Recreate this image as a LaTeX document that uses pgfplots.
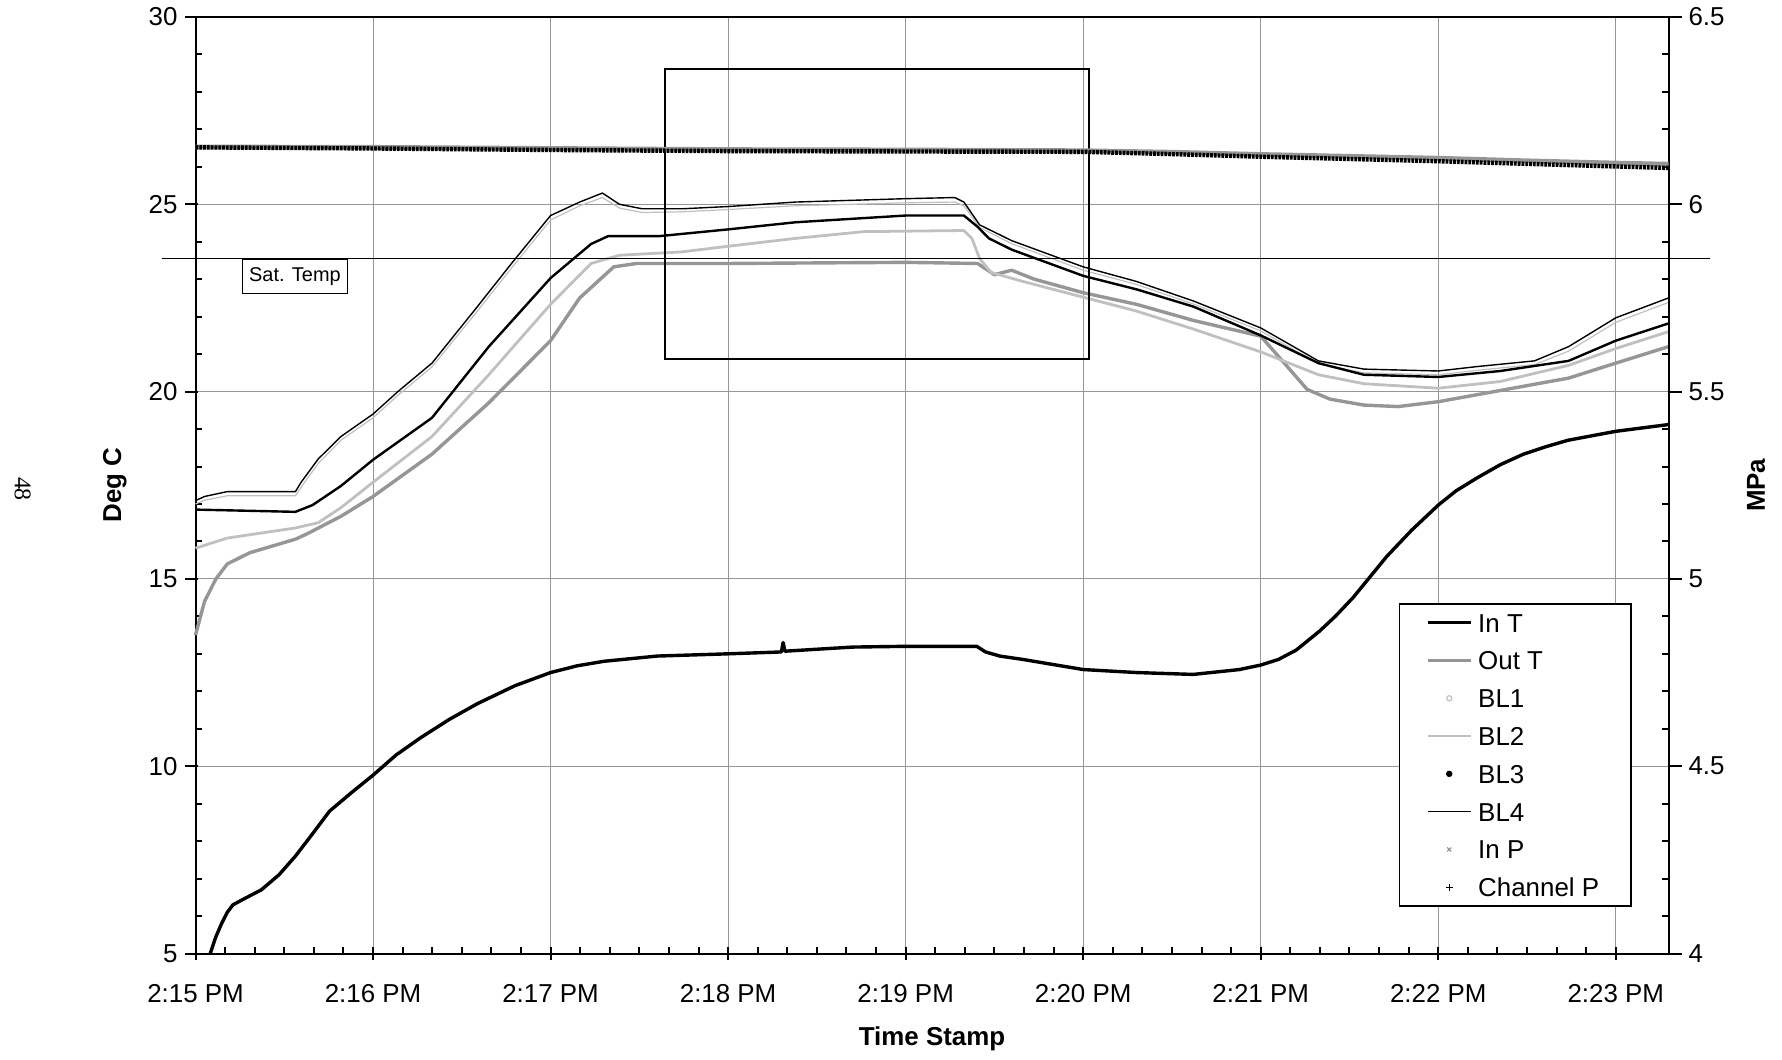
\documentclass[border=0pt]{standalone}
\usepackage{fontspec}
\setmainfont{Liberation Sans}
\newfontfamily\seriffont{Liberation Serif}
\usepackage{pgfplots}
\pgfplotsset{compat=1.18}

\definecolor{gridc}{RGB}{150,150,150}
\definecolor{outc}{RGB}{150,150,150}
\definecolor{lightc}{RGB}{192,192,192}

\pgfplotsset{
  tfig/.style={
    scale only axis, width=736.5bp, height=468.25bp,
    at={(0,0)}, anchor=south west,
    xmin=0, xmax=8.297,
    tick align=inside, major tick length=6.5bp, minor tick length=3.5bp,
    tick style={black, line width=1bp},
    axis line style={line width=1bp},
    tick label style={font=\fontsize{13}{15}\selectfont},
    /pgf/number format/assume math mode=true,
    legend image code/.code={\draw[mark repeat=2,mark phase=2,#1] plot coordinates {(0bp,0bp) (10.85bp,0bp) (21.7bp,0bp)};},
  }
}

\begin{document}
\begin{tikzpicture}
\useasboundingbox (-97.75bp,-53.25bp) rectangle (793.25bp,476.75bp);

% temperatures, deg C
\begin{axis}[tfig,
  ymin=5, ymax=30, ytick={5,10,15,20,25,30}, minor y tick num=4,
  xtick={0,1,2,3,4,5,6,7,8},
  xticklabels={2:15 PM,2:16 PM,2:17 PM,2:18 PM,2:19 PM,2:20 PM,2:21 PM,2:22 PM,2:23 PM},
  minor x tick num=5,
  xtick pos=bottom, ytick pos=left,
  xmajorgrids, ymajorgrids, grid style={gridc, line width=0.5bp},
  every major x tick/.append style={yshift=-3.25bp},
  every major y tick/.append style={xshift=-5bp},
  xticklabel style={yshift=-12bp}, yticklabel style={xshift=-5.5bp},
  xlabel={Time Stamp}, ylabel={Deg C},
  every axis x label/.style={at={(axis description cs:0.5,-0.091)}, anchor=center,
    font=\bfseries\fontsize{13}{15}\selectfont},
  every axis y label/.style={at={(axis description cs:-0.0548,0.5)}, rotate=90, anchor=center,
    font=\bfseries\fontsize{13}{15}\selectfont},
  clip=false,
]
% In T
\addplot[black, line width=1.7bp, line join=round] coordinates {
 (0.083,5.0) (0.115,5.45) (0.147,5.8) (0.179,6.1) (0.211,6.3) (0.29,6.5) (0.371,6.7)
 (0.47,7.1) (0.563,7.6) (0.66,8.2) (0.755,8.8) (0.88,9.3) (1.0,9.76) (1.13,10.3)
 (1.268,10.76) (1.43,11.25) (1.588,11.67) (1.8,12.15) (2.0,12.5) (2.15,12.68) (2.3,12.8)
 (2.6,12.94) (3.0,13.0) (3.30,13.05) (3.31,13.3) (3.32,13.07) (3.7,13.18) (4.0,13.2)
 (4.4,13.2) (4.45,13.05) (4.53,12.94) (4.66,12.85) (5.0,12.58) (5.3,12.5) (5.62,12.45)
 (5.88,12.58) (6.0,12.7) (6.1,12.85) (6.2,13.1) (6.33,13.6) (6.42,14.0) (6.52,14.5)
 (6.71,15.6) (6.85,16.3) (7.0,16.97) (7.1,17.35) (7.22,17.7) (7.35,18.05) (7.48,18.33)
 (7.6,18.52) (7.73,18.7) (8.0,18.94) (8.297,19.12)
};
% Out T
\addplot[outc, line width=1.7bp, line join=round] coordinates {
 (0,13.5) (0.051,14.4) (0.115,15.0) (0.179,15.4) (0.307,15.7) (0.563,16.06) (0.627,16.2)
 (0.819,16.67) (1.0,17.2) (1.332,18.33) (1.652,19.7) (2.0,21.36) (2.164,22.5) (2.356,23.33)
 (2.484,23.42) (3.0,23.42) (4.0,23.45) (4.405,23.42) (4.5,23.12) (4.597,23.24) (4.725,23.0)
 (5.0,22.64) (5.3,22.33) (5.62,21.9) (6.0,21.48) (6.133,20.76) (6.261,20.06) (6.389,19.8)
 (6.581,19.64) (6.773,19.6) (7.0,19.73) (7.35,20.03) (7.734,20.36) (8.0,20.76) (8.297,21.2)
};
% BL1
\addplot[lightc, line width=1.4bp, line join=round] coordinates {
 (0,15.82) (0.179,16.09) (0.563,16.36) (0.691,16.5) (0.819,16.9) (1.0,17.58) (1.332,18.8)
 (1.652,20.45) (2.0,22.33) (2.228,23.42) (2.388,23.64) (2.74,23.73) (3.0,23.88) (3.38,24.09)
 (3.764,24.27) (4.328,24.3) (4.373,24.09) (4.417,23.55) (4.481,23.18) (4.661,22.94) (5.0,22.52)
 (5.3,22.15) (5.62,21.67) (6.0,21.06) (6.325,20.45) (6.581,20.21) (7.0,20.09) (7.35,20.27)
 (7.734,20.7) (8.0,21.15) (8.297,21.6)
};
% BL2
\addplot[lightc, line width=0.6bp, line join=round] coordinates {
 (0,17.0) (0.051,17.1) (0.179,17.22) (0.563,17.22) (0.595,17.45) (0.691,18.08) (0.819,18.7)
 (1.0,19.3) (1.14,19.9) (1.332,20.66) (1.588,22.15) (1.78,23.3) (2.0,24.58) (2.164,24.96)
 (2.292,25.18) (2.388,24.9) (2.516,24.78) (2.74,24.8) (3.0,24.86) (3.38,24.96) (4.0,25.04)
 (4.277,25.06) (4.328,24.96) (4.417,24.38) (4.597,23.95) (5.0,23.24) (5.3,22.86) (5.62,22.34)
 (6.0,21.62) (6.325,20.74) (6.581,20.5) (7.0,20.45) (7.222,20.57) (7.542,20.72) (7.734,21.08)
 (8.0,21.85) (8.297,22.38)
};
% BL3
\addplot[black, line width=1.2bp, line join=round] coordinates {
 (0,16.85) (0.563,16.79) (0.659,16.97) (0.819,17.48) (1.0,18.18) (1.332,19.3) (1.652,21.2)
 (2.0,23.03) (2.228,23.94) (2.324,24.15) (2.612,24.15) (3.0,24.33) (3.38,24.52) (4.0,24.7)
 (4.328,24.7) (4.405,24.4) (4.469,24.09) (4.597,23.79) (5.0,23.09) (5.3,22.73) (5.62,22.27)
 (6.0,21.5) (6.325,20.76) (6.581,20.45) (7.0,20.39) (7.35,20.55) (7.734,20.82) (8.0,21.36) (8.297,21.82)
};
% BL4
\addplot[black, line width=0.7bp, line join=round] coordinates {
 (0,17.09) (0.051,17.2) (0.179,17.33) (0.563,17.33) (0.595,17.58) (0.691,18.2) (0.819,18.8)
 (1.0,19.4) (1.14,20.0) (1.332,20.76) (1.588,22.27) (1.78,23.42) (2.0,24.7) (2.164,25.06)
 (2.292,25.3) (2.388,25.0) (2.516,24.88) (2.74,24.88) (3.0,24.94) (3.38,25.06) (4.0,25.15)
 (4.277,25.18) (4.328,25.06) (4.417,24.45) (4.597,24.03) (5.0,23.33) (5.3,22.94) (5.62,22.42)
 (6.0,21.7) (6.325,20.82) (6.581,20.6) (7.0,20.55) (7.222,20.67) (7.542,20.82) (7.734,21.2)
 (8.0,21.97) (8.297,22.5)
};
% saturation temperature and the marked region
\draw[line width=0.8bp] (axis cs:-0.19,23.55) -- (axis cs:8.53,23.55);
\node[draw, line width=0.6bp, fill=white, font=\fontsize{10}{12}\selectfont,
      inner xsep=3.5bp, inner ysep=0pt, minimum height=17bp, anchor=north]
  at (axis cs:0.56,23.55) {Sat. Temp};
\draw[line width=1bp] (axis cs:2.644,28.61) rectangle (axis cs:5.032,20.86);
\end{axis}

% pressures, MPa
\begin{axis}[tfig,
  ymin=4, ymax=6.5, ytick={4,4.5,5,5.5,6,6.5}, minor y tick num=4,
  axis x line=none, axis y line*=right,
  every major y tick/.append style={xshift=6.5bp},
  yticklabel style={xshift=6.5bp},
  ylabel={MPa},
  every axis y label/.style={at={(axis description cs:1.0594,0.5)}, rotate=90, anchor=center,
    font=\bfseries\fontsize{13}{15}\selectfont},
  legend style={at={(axis description cs:0.9752,0.0497)}, anchor=south east,
    draw=black, line width=0.8bp, fill=white,
    inner xsep=13.2bp, inner ysep=0bp, row sep=0pt,
    font=\fontsize{13}{15}\selectfont,
    nodes={inner xsep=2.8bp, inner ysep=0pt, text height=14.2bp, text depth=4.7bp}},
  legend cell align=left,
]
\addlegendimage{black, line width=1.7bp}
\addlegendimage{outc, line width=1.7bp}
\addlegendimage{only marks, mark=o, mark size=1.3bp, lightc, mark options={line width=0.6bp}}
\addlegendimage{lightc, line width=0.6bp}
\addlegendimage{only marks, mark=*, mark size=1.2bp, black}
\addlegendimage{black, line width=0.8bp}
\addlegendimage{only marks, mark=x, mark size=1.4bp, outc, mark options={line width=0.6bp}}
\addlegendimage{only marks, mark=+, mark size=1.7bp, black, mark options={line width=0.7bp}}
% In P
\addplot[forget plot, outc, line width=2.4bp] coordinates {
 (0,6.153) (1,6.152) (2,6.149) (3,6.146) (4,6.145) (5,6.143) (5.5,6.139) (6,6.133)
 (6.5,6.128) (7,6.123) (7.5,6.116) (8,6.110) (8.297,6.107)
};
% Channel P
\addplot[forget plot, black, line width=2.2bp, dash pattern=on 1.4bp off 0.5bp] coordinates {
 (0,6.152) (1,6.149) (2,6.145) (3,6.142) (4,6.141) (5,6.140) (5.5,6.134) (6,6.127)
 (6.5,6.121) (7,6.115) (7.5,6.108) (8,6.101) (8.297,6.097)
};
\legend{In T, Out T, BL1, BL2, BL3, BL4, In P, Channel P}
\end{axis}

\node[rotate=-90, font=\seriffont\fontsize{12}{14}\selectfont] at (-86.4bp,232.25bp) {48};
\end{tikzpicture}
\end{document}
